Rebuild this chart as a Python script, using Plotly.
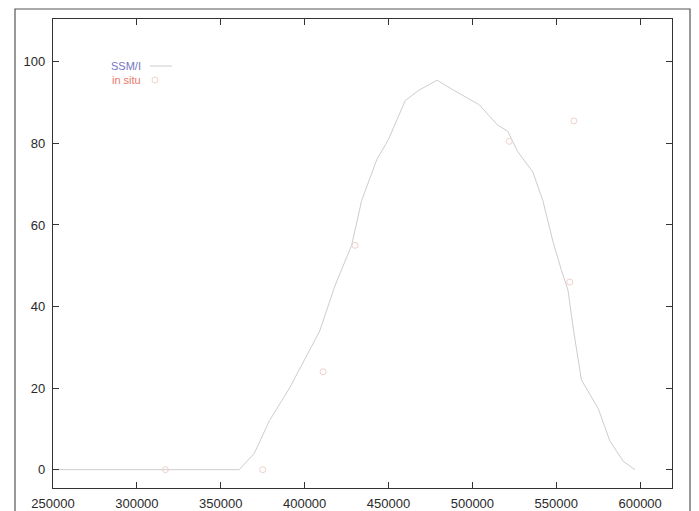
import plotly.graph_objects as go

# SSM/I series (line)
ssmi_x = [250000, 300000, 361000, 370000, 379000, 391000, 409000, 418000, 428000,
          434000, 443000, 450000, 460000, 468000, 479000, 489000, 504000, 515000,
          521000, 527000, 536000, 542000, 548000, 553000, 557000, 560000, 565000,
          575000, 582000, 590000, 597000]
ssmi_y = [0, 0, 0, 4, 12, 20, 34, 45, 55, 66, 76, 81, 90.5, 93, 95.5, 93, 89.5,
          84.5, 83, 78, 73, 66, 56, 49, 44, 35, 22, 15, 7, 2, 0]

# in situ points
insitu_x = [317000, 375000, 411000, 430000, 522000, 558000, 560500]
insitu_y = [0, 0, 24, 55, 80.5, 46, 85.5]

x_ticks = [250000, 300000, 350000, 400000, 450000, 500000, 550000, 600000]
y_ticks = [0, 20, 40, 60, 80, 100]

OFF = 8  # page body margin
W, H = 699 - OFF, 511 - OFF
# plot box in screen pixels: left 53, right 672, top 19, bottom 488
L, T = 53 - OFF, 19 - OFF
R, B = W - (672 - OFF), H - (488 - OFF)
pw, ph = W - L - R, H - T - B

def px(x):
    return (x - OFF - L) / pw

def py(y):
    return (H - B - (y - OFF)) / ph

fig = go.Figure()
fig.add_trace(go.Scatter(x=ssmi_x, y=ssmi_y, mode="lines", name="SSM/I",
                         line=dict(color="#cdcdcd", width=1), showlegend=False))
fig.add_trace(go.Scatter(x=insitu_x, y=insitu_y, mode="markers", name="in situ",
                         marker=dict(symbol="circle-open", size=6,
                                     color="#f0d0c8", line=dict(width=1)),
                         showlegend=False))

axis_common = dict(showgrid=False, zeroline=False, showline=True, mirror="ticks",
                   linecolor="#333333", linewidth=1.2, ticks="inside", ticklen=6,
                   tickcolor="#333333", tickwidth=1.2, automargin=False,
                   tickfont=dict(family="Liberation Sans, Arial", size=13, color="#2a2a2a"))

fig.update_xaxes(range=[250000, 619000], tickvals=x_ticks, ticklabelstandoff=3,
                 ticktext=[str(v) for v in x_ticks], **axis_common)
fig.update_yaxes(range=[-4.5, 110.5], tickvals=y_ticks, ticklabelstandoff=4,
                 ticktext=[str(v) for v in y_ticks], **axis_common)

shapes = [
    # outer scanned page frame
    dict(type="rect", xref="paper", yref="paper", x0=px(15), x1=px(690),
         y0=py(530), y1=py(9), line=dict(color="#555555", width=1.2),
         fillcolor="rgba(0,0,0,0)", layer="below"),
    # dark bar on right edge
    dict(type="rect", xref="paper", yref="paper", x0=px(692), x1=px(705),
         y0=py(530), y1=py(12), line=dict(width=0), fillcolor="#1a1a24"),
    # legend sample line
    dict(type="line", xref="paper", yref="paper", x0=px(150), x1=px(172),
         y0=py(66), y1=py(66), line=dict(color="#cdcdcd", width=1)),
    # legend sample marker
    dict(type="circle", xref="paper", yref="paper", x0=px(152), x1=px(158),
         y0=py(83), y1=py(77), line=dict(color="#f0d0c8", width=1)),
]

annotations = [
    dict(text="SSM/I", xref="paper", yref="paper", x=px(143), y=py(66),
         xanchor="right", yanchor="middle", showarrow=False,
         font=dict(family="Liberation Sans, Arial", size=11, color="#7474c4")),
    dict(text="in situ", xref="paper", yref="paper", x=px(143), y=py(80),
         xanchor="right", yanchor="middle", showarrow=False,
         font=dict(family="Liberation Sans, Arial", size=11, color="#e8786a")),
]

fig.update_layout(width=W, height=H, margin=dict(l=L, r=R, t=T, b=B, autoexpand=False),
                  paper_bgcolor="white", plot_bgcolor="white",
                  shapes=shapes, annotations=annotations, showlegend=False)

fig.write_html("out.html")
